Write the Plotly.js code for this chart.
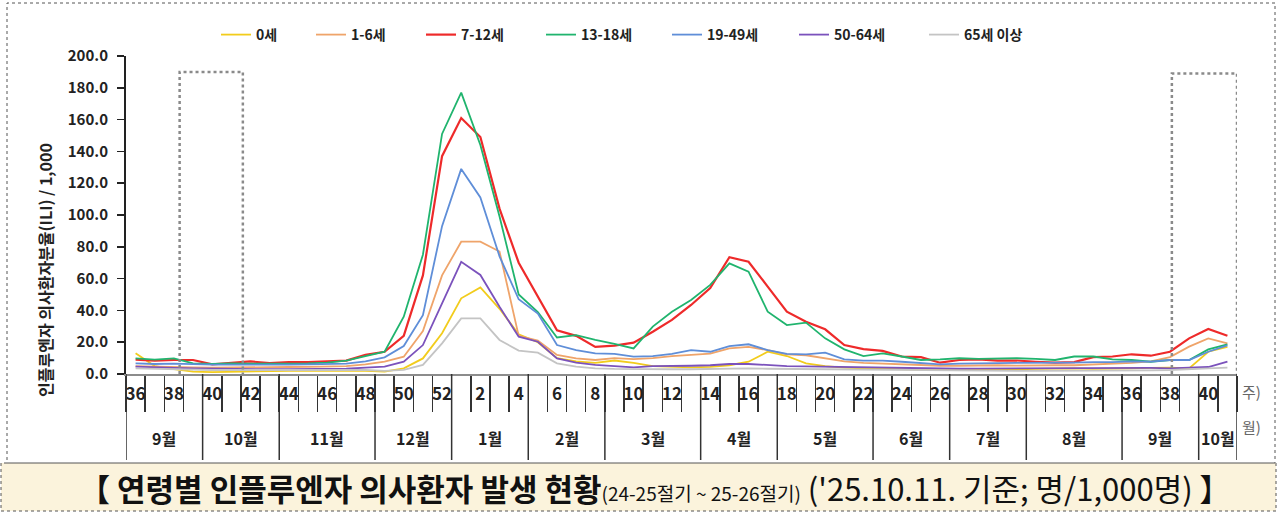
<!DOCTYPE html>
<html><head><meta charset="utf-8">
<script src="https://cdn.plot.ly/plotly-3.0.1.min.js"></script>
<style>html,body{margin:0;padding:0;background:#fff}#chart{width:1278px;height:512px}</style>
</head><body><div id="chart"></div>
<script>
// ---------- data ----------
const weeks = [36,37,38,39,40,41,42,43,44,45,46,47,48,49,50,51,52,
  1,2,3,4,5,6,7,8,9,10,11,12,13,14,15,16,17,18,19,20,21,22,23,24,25,26,27,28,29,30,31,32,33,34,35,36,37,38,39,40,41];
const monthLabels = ['9월','10월','11월','12월','1월','2월','3월','4월','5월','6월','7월','8월','9월','10월'];
const monthWeekCounts = [4,4,5,4,4,4,5,4,5,4,4,5,4,2];
const seriesNames = ['0세','1-6세','7-12세','13-18세','19-49세','50-64세','65세 이상'];

const age0 = [13,5,3,1.5,1.2,1.5,1.5,1.8,2,2,2,2,2,1.5,3.6,9.8,25.6,
  47.6,54.5,41,25,20,10,8,7,8.5,7,5,4.5,4.2,4.5,5.5,7.7,14,11.3,6.7,5,4,3.5,3.2,3,3,2.5,2.5,2.8,3,3,3.2,3.5,3.5,3.2,3.2,3.5,3.8,4,3.5,14,17];
const age1to6 = [5.0,4.6,4.5,4.2,4.0,4.2,4.3,4.3,4.4,4.5,4.8,5.0,6.0,7.8,10.9,27.0,62.0,
  83.2,83.2,77,24,21,12,9.8,8.8,10,9.3,10,11.3,12,12.8,16.1,17,15,12.3,11.8,10,8,7,6.5,5.8,5.5,5.2,5.2,5.5,5.5,5.3,5.2,5.5,5.5,6,6.5,7,8,10.6,17.2,22.4,19.3];
const age7to12 = [9.1,8.4,8.8,8.8,6.1,7.0,7.9,6.8,7.5,7.5,8.0,8.4,12.0,14.0,24.0,62.0,137.0,
  161,149,104,70,48.6,27.5,24,17,17.8,19.7,26.6,34,43.4,54,73.4,70.6,55,39.2,32.9,28.1,18.2,15.7,14.5,11,10.6,7.1,8.8,9.2,8.4,8.5,7.7,7.1,7.5,10.6,11,12.4,11.5,14,22.4,28.3,24.1];
const age13to18 = [9.8,9.1,9.8,6.7,6.3,6.7,6.5,6.5,6.7,6.7,7.2,8.4,11.3,14.0,36.0,75.0,151.0,
  177,144,99,50,39,23,24.5,21.4,19,16.1,29.8,39.2,46.5,56,69.6,64.4,39.2,30.8,32.3,22.4,15.5,11.3,13,11,8.8,9.2,9.9,9.5,9.9,9.9,9.5,8.8,11,11,9.2,8.8,7.7,8.8,8.8,15.5,18.7];
const age19to49 = [6.7,6.3,6.5,6.0,5.9,5.9,5.8,5.8,5.9,6.0,6.2,6.5,8.0,10.5,17.6,37.0,93.0,
  129,111,74,47,38,18.2,15,13,12.6,10.9,11.3,12.6,15,14,17.6,18.7,15,12.6,12.3,13.4,9.2,8.4,8.4,7.7,6.7,6.1,6.5,6.5,6.8,7,7,7,7.2,7.5,7.5,8,7.8,8.8,8.8,14,18];
const age50to64 = [4.6,4.0,3.8,3.5,3.3,3.2,3.0,3.0,3.0,3.1,3.1,3.3,4.0,4.6,7.8,18.2,44.4,
  70.6,62.3,42.3,23.5,20.3,9.8,7.1,5.7,5,4.2,5,5,5.2,5.5,6.3,6.3,5.5,5,4.8,4.6,4.4,4.2,4,3.8,3.5,3.3,3.3,3.4,3.5,3.5,3.6,3.6,3.6,3.7,3.8,3.8,3.8,3.6,3.8,4.4,7.8];
const age65plus = [3.5,3.2,3,2.8,2.5,2.5,2.5,2.5,2.5,2.5,2.5,2.5,2.5,2,2.6,5.7,19.3,
  35,35,21.4,14.7,13.4,6.7,4.6,3.6,3.2,3,3,3,3,3.2,3.5,3.5,3.3,3.2,3,2.8,2.6,2.5,2.5,2.3,2.2,2,2,2,2,2,2,2,2,2,2.2,2.2,2.3,2.5,2.8,3.5,4];

const allSeries = [age0, age1to6, age7to12, age13to18, age19to49, age50to64, age65plus];
const colors = ['#F2CC1C','#EFA46A','#EE2A2A','#20B46E','#5F8ED8','#7B52BC','#C4C4C4'];

// ---------- geometry helpers (page pixels -> paper) ----------
const W = 1278, H = 512, L = 126, R = 41, T = 56, B = 138;
const PW = W - L - R, PH = H - T - B;
const px2x = p => (p - L) / PW;
const py2y = p => (H - B - p) / PH;
const KR = 'Noto Sans CJK KR, Noto Sans, sans-serif';

const idx = weeks.map((w, i) => i);

// ---------- traces ----------
const legendKeys = ['legend','legend2','legend3','legend4','legend5','legend6','legend7'];
const traces = allSeries.map((s, k) => ({
  type: 'scatter', mode: 'lines', x: idx, y: s, name: seriesNames[k],
  line: {color: colors[k], width: k === 2 ? 2.2 : 1.8},
  legend: legendKeys[k], hoverinfo: 'skip'
}));

// ---------- axes ticks ----------
const labelVals = idx.filter(i => weeks[i] % 2 === 0);
const labelText = labelVals.map(i => String(weeks[i]));
const boundaries = [];
for (let i = 0; i <= weeks.length; i++) boundaries.push(i - 0.5);

// ---------- shapes ----------
const shapes = [];
shapes.push({type:'rect', xref:'paper', yref:'paper', x0:px2x(1), x1:px2x(1276), y0:py2y(511), y1:py2y(463),
  fillcolor:'#FBF3DC', line:{color:'#555', width:1, dash:'dot'}, layer:'below'});
shapes.push({type:'rect', xref:'paper', yref:'paper', x0:px2x(7), x1:px2x(1275), y0:py2y(463), y1:py2y(3),
  line:{color:'#555', width:1, dash:'dot'}, layer:'below'});
let acc = -0.5;
const monthCenters = [];
shapes.push({type:'line', xref:'x', yref:'paper', x0:acc, x1:acc, y0:0, y1:py2y(460), line:{color:'#333', width:1.5}});
monthWeekCounts.forEach(c => {
  monthCenters.push(acc + c / 2);
  acc += c;
  shapes.push({type:'line', xref:'x', yref:'paper', x0:acc, x1:acc, y0:0, y1:py2y(460), line:{color:'#333', width:1.5}});
});
[[2.3, 5.6, 190], [54.1, 57.5, 189]].forEach(b => {
  shapes.push({type:'path', xref:'x', yref:'y',
    path:`M${b[0]},0 L${b[0]},${b[2]} L${b[1]},${b[2]} L${b[1]},0`,
    line:{color:'#8a8a8a', width:2.5, dash:'dot'}});
});

// ---------- annotations ----------
const annotations = [];
monthCenters.forEach((c, i) => annotations.push({
  xref:'x', yref:'paper', x:c, y:py2y(438), text:'<b>' + monthLabels[i] + '</b>', showarrow:false,
  font:{family:KR, size:16, color:'#222'}, xanchor:'center', yanchor:'middle'
}));
annotations.push({xref:'paper', yref:'paper', x:px2x(1240), y:py2y(391), text:'주)', showarrow:false,
  xanchor:'left', yanchor:'middle', font:{family:KR, size:15, color:'#666'}});
annotations.push({xref:'paper', yref:'paper', x:px2x(1240), y:py2y(426), text:'월)', showarrow:false,
  xanchor:'left', yanchor:'middle', font:{family:KR, size:15, color:'#666'}});
annotations.push({xref:'paper', yref:'paper', x:px2x(45), y:py2y(270), textangle:-90,
  text:'<b>인플루엔자 의사환자분율(ILI) / 1,000</b>', showarrow:false,
  xanchor:'center', yanchor:'middle', font:{family:KR, size:16, color:'#222'}});
annotations.push({xref:'paper', yref:'paper', x:px2x(655), y:py2y(487),
  text:'<b>【 연령별 인플루엔자 의사환자 발생 현황</b><span style="font-size:19px">(24-25절기 ~ 25-26절기)</span> (\'25.10.11. 기준; 명/1,000명) 】',
  showarrow:false, xanchor:'center', yanchor:'middle', font:{family:KR, size:31, color:'#111'}});

// ---------- legends ----------
const legendStarts = [222, 317, 427, 547, 673, 800, 930];
const layout = {
  width: W, height: H,
  margin: {l: L, r: R, t: T, b: B, autoexpand: false},
  paper_bgcolor: '#fff', plot_bgcolor: 'rgba(0,0,0,0)',
  font: {family: KR},
  xaxis: {
    range: [-0.5, weeks.length - 0.5], showgrid: false, zeroline: false,
    showline: true, linecolor: '#8c8c8c', linewidth: 2,
    tickmode: 'array', tickvals: labelVals, ticktext: labelText, ticks: '',
    ticklabelstandoff: 4,
    tickfont: {family: KR, size: 17, color: '#222', weight: 700},
    minor: {tickmode: 'array', tickvals: boundaries, ticks: 'outside', ticklen: 36, tickwidth: 1.5, tickcolor: '#333', showgrid: false}
  },
  yaxis: {
    range: [0, 200], dtick: 20, tick0: 0, tickformat: '.1f', showgrid: false, zeroline: false,
    showline: true, linecolor: '#222', linewidth: 2,
    ticks: 'outside', ticklen: 7, tickwidth: 1.5, tickcolor: '#222', ticklabelstandoff: 6,
    tickfont: {family: KR, size: 15, color: '#222', weight: 700}
  },
  shapes: shapes,
  annotations: annotations,
  showlegend: true
};
legendKeys.forEach((k, i) => {
  layout[k] = {x: px2x(legendStarts[i] - 6), xanchor: 'left', y: py2y(35), yanchor: 'middle',
    orientation: 'h', bgcolor: 'rgba(0,0,0,0)', borderwidth: 0,
    font: {family: KR, size: 14, color: '#222', weight: 700}};
});

Plotly.newPlot('chart', traces, layout, {displayModeBar: false, staticPlot: true});
</script>
</body></html>
